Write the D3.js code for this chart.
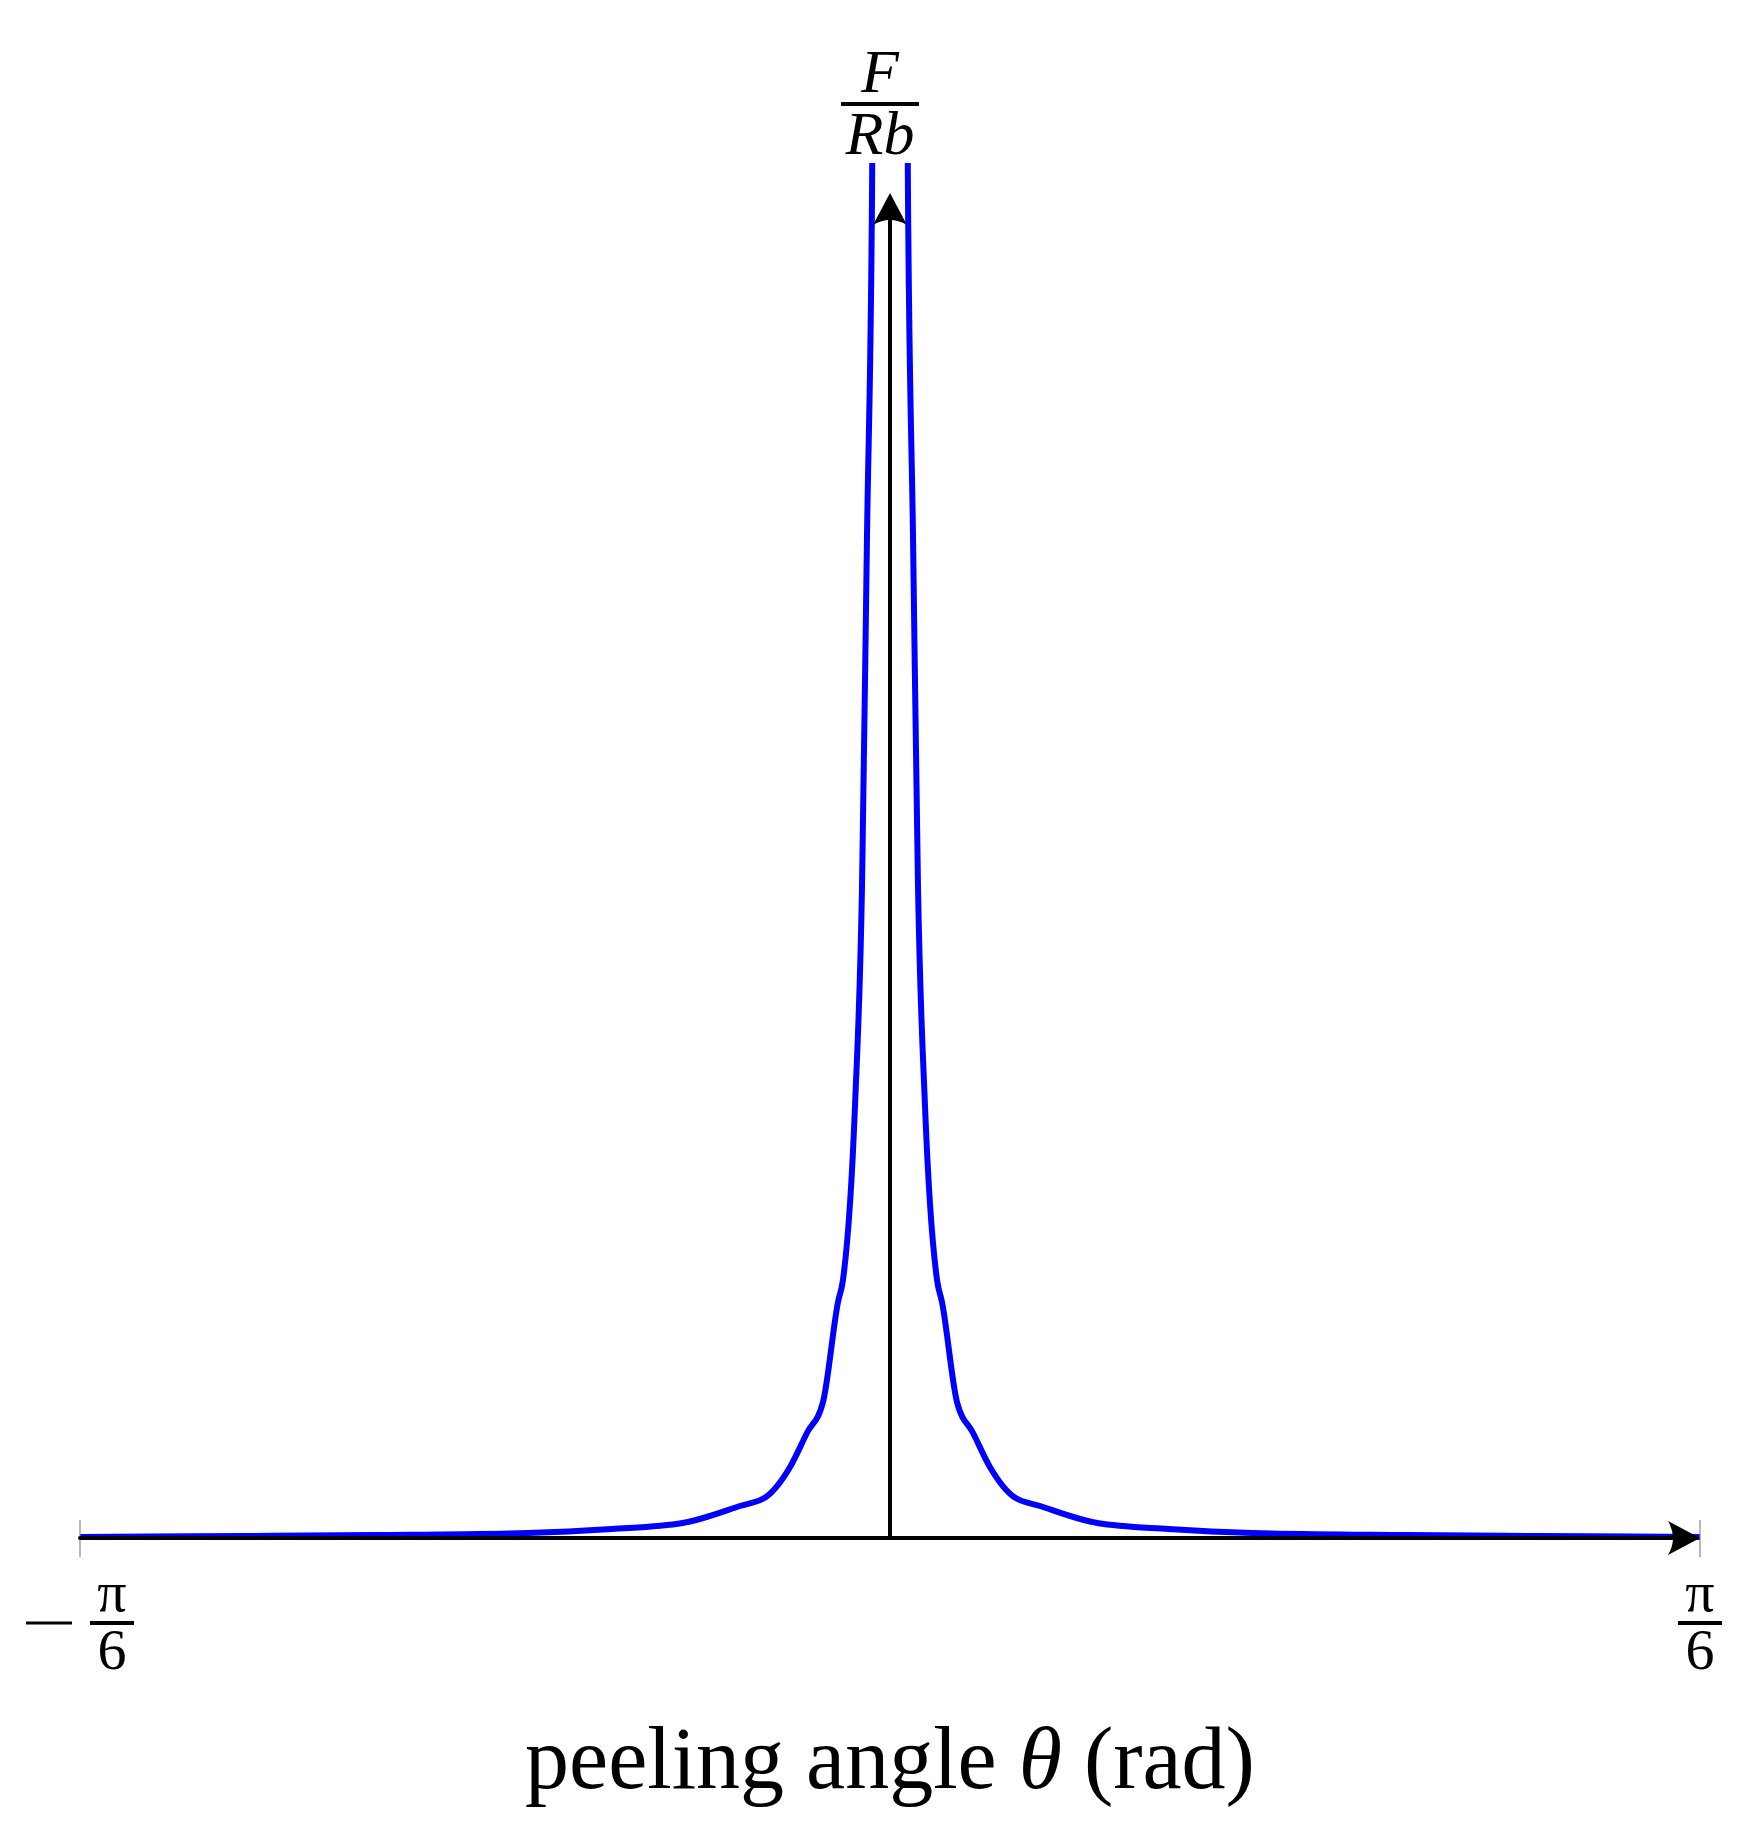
<!DOCTYPE html>
<html>
<head>
<meta charset="utf-8">
<script src="https://cdn.jsdelivr.net/npm/d3@7"></script>
<style>
  body { margin: 0; background: #fff; }
  text { font-family: "Liberation Serif", "DejaVu Serif", serif; fill: #000; }
</style>
</head>
<body>
<svg id="chart" width="1746" height="1842"></svg>
<script>
// peeling angle (rad), right branch; the curve is symmetric about theta = 0
const thetaRight = [0.0095, 0.0116, 0.0149, 0.0181, 0.0226, 0.0304, 0.0336, 0.0433, 0.0537,
  0.0646, 0.0802, 0.097, 0.134, 0.180, 0.234, 0.334, 0.420, 0.5236];
// F / Rb (arbitrary units)
const forceRight = [19.0, 13.48, 9.99, 6.51, 4.33, 2.58, 2.36, 1.36, 1.05,
  0.71, 0.41, 0.32, 0.15, 0.09, 0.05, 0.03, 0.02, 0.01];
const xTicks = [{ v: -Math.PI / 6, neg: true }, { v: Math.PI / 6, neg: false }];

const svg = d3.select('#chart');
const mLeft = 80, mRight = 1700, mBottom = 1538, mTop = 193;

const x = d3.scaleLinear().domain([-Math.PI / 6, Math.PI / 6]).range([mLeft, mRight]);
const y = d3.scaleLinear().domain([0, 13.45]).range([mBottom, mTop]);

svg.append('defs').append('clipPath').attr('id', 'clip')
  .append('rect').attr('x', mLeft).attr('y', mTop - 30).attr('width', mRight - mLeft).attr('height', mBottom - mTop + 40);

const line = d3.line().x(d => x(d[0])).y(d => y(d[1])).curve(d3.curveMonotoneX);
const rightPts = thetaRight.map((t, i) => [t, forceRight[i]]);
const leftPts = rightPts.map(d => [-d[0], d[1]]).reverse();

const g = svg.append('g').attr('clip-path', 'url(#clip)');
[leftPts, rightPts].forEach(pts => {
  g.append('path').attr('d', line(pts))
    .attr('fill', 'none').attr('stroke', '#0000ff').attr('stroke-width', 6)
    .attr('stroke-linejoin', 'round');
});

// tick marks at the ends
xTicks.forEach(t => {
  svg.append('line').attr('x1', x(t.v)).attr('x2', x(t.v)).attr('y1', 1520).attr('y2', 1557)
    .attr('stroke', '#888').attr('stroke-width', 1.2);
});

// axes
const x0 = x(0);
svg.append('line').attr('x1', mLeft).attr('x2', mRight - 20).attr('y1', mBottom).attr('y2', mBottom)
  .attr('stroke', '#000').attr('stroke-width', 4).attr('stroke-linecap', 'round');
svg.append('line').attr('x1', x0).attr('x2', x0).attr('y1', mBottom).attr('y2', mTop + 20)
  .attr('stroke', '#000').attr('stroke-width', 4);
svg.append('path')
  .attr('d', `M${mRight},${mBottom} L${mRight - 32},${mBottom - 17} Q${mRight - 22},${mBottom} ${mRight - 32},${mBottom + 17} Z`)
  .attr('fill', '#000');
svg.append('path')
  .attr('d', `M${x0},${mTop} L${x0 - 17},${mTop + 32} Q${x0},${mTop + 22} ${x0 + 17},${mTop + 32} Z`)
  .attr('fill', '#000');

// fraction helper
function frac(cx, yBar, num, den, size, italic, barW) {
  const grp = svg.append('g');
  grp.append('text').attr('x', cx).attr('y', yBar - 12).attr('text-anchor', 'middle')
    .attr('font-size', size).attr('font-style', italic ? 'italic' : 'normal').text(num);
  grp.append('line').attr('x1', cx - barW / 2).attr('x2', cx + barW / 2).attr('y1', yBar).attr('y2', yBar)
    .attr('stroke', '#000').attr('stroke-width', 4);
  grp.append('text').attr('x', cx).attr('y', yBar + size * 0.8).attr('text-anchor', 'middle')
    .attr('font-size', size).attr('font-style', italic ? 'italic' : 'normal').text(den);
}

// y label
frac(880, 104, 'F', 'Rb', 62, true, 78);

// x tick labels
xTicks.forEach(t => {
  const cx = t.neg ? 112 : 1700;
  frac(cx, 1623, 'π', '6', 58, false, 44);
  if (t.neg) {
    svg.append('line').attr('x1', 26).attr('x2', 72).attr('y1', 1623).attr('y2', 1623)
      .attr('stroke', '#000').attr('stroke-width', 3);
  }
});

// x label
const xl = svg.append('text').attr('x', 890).attr('y', 1788).attr('text-anchor', 'middle').attr('font-size', 88);
xl.append('tspan').text('peeling angle ');
xl.append('tspan').attr('font-style', 'italic').text('θ');
xl.append('tspan').text(' (rad)');
</script>
</body>
</html>
